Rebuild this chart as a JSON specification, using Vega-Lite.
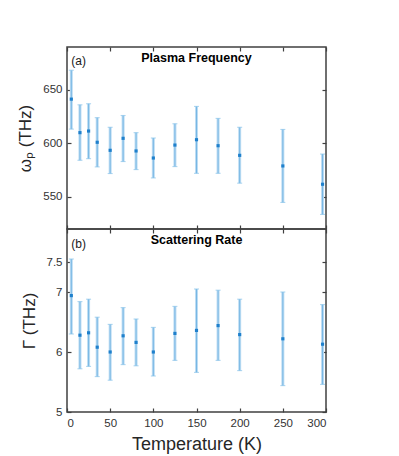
{
  "$schema": "https://vega.github.io/schema/vega-lite/v6.json",
  "padding": {"left": 16, "top": 45, "right": 5, "bottom": 5},
  "config": {
    "font": "Liberation Sans",
    "view": {"stroke": "#404040", "strokeWidth": 1.5},
    "axis": {
      "domain": false, "grid": false, "tickSize": -4, "tickColor": "#404040", "tickWidth": 1.2,
      "labelFont": "Liberation Sans", "labelFontSize": 11.5, "labelColor": "#333333", "labelPadding": 9,
      "titleFont": "Liberation Sans", "titleFontWeight": "normal", "titleFontSize": 17, "titleColor": "#262626"
    }
  },
  "spacing": 0,
  "bounds": "flush",
  "data": {"values": [
    {"T": 5, "wp": 641.3, "wlo": 613.3, "whi": 668.3, "g": 6.94, "glo": 6.30, "ghi": 7.55},
    {"T": 15, "wp": 610.0, "wlo": 584.2, "whi": 636.0, "g": 6.28, "glo": 5.72, "ghi": 6.84},
    {"T": 25, "wp": 611.5, "wlo": 585.7, "whi": 637.0, "g": 6.32, "glo": 5.76, "ghi": 6.88},
    {"T": 35, "wp": 601.0, "wlo": 578.0, "whi": 624.0, "g": 6.08, "glo": 5.59, "ghi": 6.58},
    {"T": 50, "wp": 593.5, "wlo": 571.8, "whi": 615.0, "g": 6.00, "glo": 5.53, "ghi": 6.46},
    {"T": 65, "wp": 604.7, "wlo": 583.0, "whi": 626.0, "g": 6.27, "glo": 5.79, "ghi": 6.74},
    {"T": 80, "wp": 592.9, "wlo": 575.5, "whi": 610.0, "g": 6.16, "glo": 5.77, "ghi": 6.55},
    {"T": 100, "wp": 586.3, "wlo": 567.7, "whi": 605.0, "g": 6.00, "glo": 5.60, "ghi": 6.41},
    {"T": 125, "wp": 598.4, "wlo": 578.3, "whi": 618.3, "g": 6.31, "glo": 5.86, "ghi": 6.76},
    {"T": 150, "wp": 603.4, "wlo": 572.0, "whi": 634.5, "g": 6.36, "glo": 5.66, "ghi": 7.05},
    {"T": 175, "wp": 597.8, "wlo": 572.0, "whi": 623.3, "g": 6.44, "glo": 5.86, "ghi": 7.03},
    {"T": 200, "wp": 588.8, "wlo": 562.8, "whi": 615.0, "g": 6.29, "glo": 5.69, "ghi": 6.88},
    {"T": 250, "wp": 578.9, "wlo": 544.8, "whi": 613.0, "g": 6.22, "glo": 5.44, "ghi": 7.00},
    {"T": 296, "wp": 561.8, "wlo": 533.6, "whi": 590.0, "g": 6.13, "glo": 5.46, "ghi": 6.79}
  ]},
  "vconcat": [
    {
      "width": 259, "height": 182,
      "resolve": {"axis": {"x": "independent", "y": "independent"}},
      "layer": [
        {
          "mark": {"type": "rule", "color": "#bcdcf3", "strokeWidth": 3},
          "encoding": {
            "x": {"field": "T", "type": "quantitative", "scale": {"domain": [0, 300], "nice": false}, "axis": {"orient": "bottom", "labels": false, "title": null, "values": [0, 50, 100, 150, 200, 250, 300], "minExtent": 0, "maxExtent": 0}},
            "y": {"field": "wlo", "type": "quantitative", "scale": {"domain": [520, 690], "nice": false, "zero": false}, "axis": {"orient": "left", "values": [550, 600, 650], "title": "ωₚ (THz)", "titlePadding": 8}},
            "y2": {"field": "whi"}
          }
        },
        {
          "mark": {"type": "rule", "color": "#66ade0", "strokeWidth": 0.8},
          "encoding": {
            "x": {"field": "T", "type": "quantitative", "axis": {"orient": "top", "labels": false, "title": null, "values": [0, 50, 100, 150, 200, 250, 300], "minExtent": 0, "maxExtent": 0}},
            "y": {"field": "wlo", "type": "quantitative", "axis": {"orient": "right", "labels": false, "title": null, "values": [550, 600, 650], "minExtent": 0, "maxExtent": 0}},
            "y2": {"field": "whi"}
          }
        },
        {
          "mark": {"type": "tick", "orient": "horizontal", "color": "#8cc4ea", "size": 5, "thickness": 1.1},
          "encoding": {
            "x": {"field": "T", "type": "quantitative", "axis": null},
            "y": {"field": "wlo", "type": "quantitative", "axis": null}
          }
        },
        {
          "mark": {"type": "tick", "orient": "horizontal", "color": "#8cc4ea", "size": 5, "thickness": 1.1},
          "encoding": {
            "x": {"field": "T", "type": "quantitative", "axis": null},
            "y": {"field": "whi", "type": "quantitative", "axis": null}
          }
        },
        {
          "mark": {"type": "point", "shape": "square", "filled": true, "color": "#1f80cc", "size": 10, "opacity": 1},
          "encoding": {
            "x": {"field": "T", "type": "quantitative", "axis": null},
            "y": {"field": "wp", "type": "quantitative", "axis": null}
          }
        },
        {
          "data": {"values": [
            {"T": 5, "v": 677, "label": "(a)"}
          ]},
          "mark": {"type": "text", "align": "left", "baseline": "middle", "fontSize": 12, "color": "#1a1a1a"},
          "encoding": {
            "x": {"field": "T", "type": "quantitative", "axis": null},
            "y": {"field": "v", "type": "quantitative", "axis": null},
            "text": {"field": "label"}
          }
        },
        {
          "data": {"values": [
            {"T": 150, "v": 680, "label": "Plasma Frequency"}
          ]},
          "mark": {"type": "text", "align": "center", "baseline": "middle", "fontSize": 12.5, "fontWeight": "bold", "color": "#000000"},
          "encoding": {
            "x": {"field": "T", "type": "quantitative", "axis": null},
            "y": {"field": "v", "type": "quantitative", "axis": null},
            "text": {"field": "label"}
          }
        }
      ]
    },
    {
      "width": 259, "height": 183,
      "resolve": {"axis": {"x": "independent", "y": "independent"}},
      "layer": [
        {
          "mark": {"type": "rule", "color": "#bcdcf3", "strokeWidth": 3},
          "encoding": {
            "x": {"field": "T", "type": "quantitative", "scale": {"domain": [0, 300], "nice": false}, "axis": {"orient": "bottom", "title": "Temperature (K)", "values": [0, 50, 100, 150, 200, 250, 300], "titlePadding": 7, "titleFontSize": 18}},
            "y": {"field": "glo", "type": "quantitative", "scale": {"domain": [5, 8.05], "nice": false, "zero": false}, "axis": {"orient": "left", "values": [5, 6, 7, 7.5], "format": ".1~f", "title": "Γ (THz)", "titlePadding": 8}},
            "y2": {"field": "ghi"}
          }
        },
        {
          "mark": {"type": "rule", "color": "#66ade0", "strokeWidth": 0.8},
          "encoding": {
            "x": {"field": "T", "type": "quantitative", "axis": {"orient": "top", "labels": false, "title": null, "values": [0, 50, 100, 150, 200, 250, 300], "minExtent": 0, "maxExtent": 0}},
            "y": {"field": "glo", "type": "quantitative", "axis": {"orient": "right", "labels": false, "title": null, "values": [5, 6, 7, 7.5], "minExtent": 0, "maxExtent": 0}},
            "y2": {"field": "ghi"}
          }
        },
        {
          "mark": {"type": "tick", "orient": "horizontal", "color": "#8cc4ea", "size": 5, "thickness": 1.1},
          "encoding": {
            "x": {"field": "T", "type": "quantitative", "axis": null},
            "y": {"field": "glo", "type": "quantitative", "axis": null}
          }
        },
        {
          "mark": {"type": "tick", "orient": "horizontal", "color": "#8cc4ea", "size": 5, "thickness": 1.1},
          "encoding": {
            "x": {"field": "T", "type": "quantitative", "axis": null},
            "y": {"field": "ghi", "type": "quantitative", "axis": null}
          }
        },
        {
          "mark": {"type": "point", "shape": "square", "filled": true, "color": "#1f80cc", "size": 10, "opacity": 1},
          "encoding": {
            "x": {"field": "T", "type": "quantitative", "axis": null},
            "y": {"field": "g", "type": "quantitative", "axis": null}
          }
        },
        {
          "data": {"values": [
            {"T": 5, "v": 7.8, "label": "(b)"}
          ]},
          "mark": {"type": "text", "align": "left", "baseline": "middle", "fontSize": 12, "color": "#1a1a1a"},
          "encoding": {
            "x": {"field": "T", "type": "quantitative", "axis": null},
            "y": {"field": "v", "type": "quantitative", "axis": null},
            "text": {"field": "label"}
          }
        },
        {
          "data": {"values": [
            {"T": 150, "v": 7.86, "label": "Scattering Rate"}
          ]},
          "mark": {"type": "text", "align": "center", "baseline": "middle", "fontSize": 12.5, "fontWeight": "bold", "color": "#000000"},
          "encoding": {
            "x": {"field": "T", "type": "quantitative", "axis": null},
            "y": {"field": "v", "type": "quantitative", "axis": null},
            "text": {"field": "label"}
          }
        }
      ]
    }
  ]
}
